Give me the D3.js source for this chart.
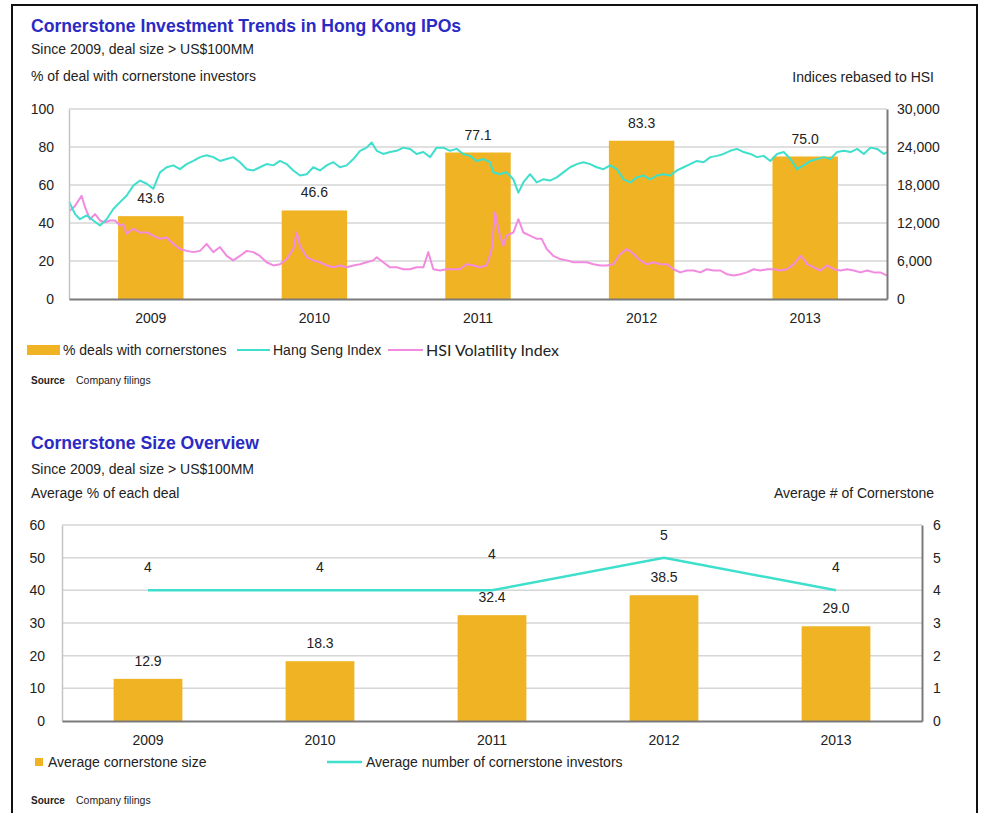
<!DOCTYPE html>
<html>
<head>
<meta charset="utf-8">
<script src="https://cdn.jsdelivr.net/npm/d3@7"></script>
<style>
body { margin: 0; background: #fff; }
svg { display: block; font-family: "Liberation Sans", Arial, sans-serif; }
</style>
</head>
<body>
<div id="chart"></div>
<script>
// ---- data ----
var years = ["2009", "2010", "2011", "2012", "2013"];
var dealsWithCornerstones = [43.6, 46.6, 77.1, 83.3, 75.0];

// [decimal year, index level] - HSI and volatility index rebased to HSI
var hangSeng = [
  [2009.002,15300],[2009.037,13400],[2009.067,12600],[2009.108,13200],[2009.149,12400],[2009.189,11600],
  [2009.230,12600],[2009.271,14200],[2009.312,15300],[2009.352,16300],[2009.393,17900],[2009.434,18700],
  [2009.475,18200],[2009.515,17400],[2009.556,20000],[2009.597,20800],[2009.638,21100],[2009.678,20500],
  [2009.719,21300],[2009.760,21800],[2009.801,22400],[2009.841,22700],[2009.882,22400],[2009.923,21800],
  [2009.964,22100],[2010.004,22400],[2010.045,21600],[2010.086,20500],[2010.127,20300],[2010.167,20800],
  [2010.208,21300],[2010.249,21100],[2010.290,21800],[2010.330,21300],[2010.371,20300],[2010.412,19500],
  [2010.453,19700],[2010.493,20800],[2010.534,20300],[2010.575,21100],[2010.616,21600],[2010.656,20800],
  [2010.697,21100],[2010.738,22100],[2010.779,23400],[2010.819,23900],[2010.850,24700],[2010.881,23400],
  [2010.921,22900],[2010.962,23200],[2011.003,23400],[2011.044,23900],[2011.084,23700],[2011.125,22900],
  [2011.166,23200],[2011.207,22400],[2011.247,23900],[2011.288,23900],[2011.329,23400],[2011.370,23700],
  [2011.410,22900],[2011.451,22600],[2011.492,21800],[2011.533,22100],[2011.573,21600],[2011.594,20000],
  [2011.634,19700],[2011.655,19900],[2011.675,20000],[2011.716,18900],[2011.747,16800],[2011.777,18400],
  [2011.818,19700],[2011.859,18400],[2011.899,18900],[2011.940,18700],[2011.981,19200],[2012.022,20000],
  [2012.063,20800],[2012.104,21300],[2012.145,21600],[2012.185,21300],[2012.226,20800],[2012.267,20500],
  [2012.308,21100],[2012.349,20500],[2012.389,18900],[2012.430,18400],[2012.471,19200],[2012.512,19500],
  [2012.553,18900],[2012.593,19500],[2012.634,19700],[2012.675,19500],[2012.716,20300],[2012.757,20800],
  [2012.797,21300],[2012.838,21800],[2012.879,21600],[2012.920,22400],[2012.961,22600],[2013.001,22900],
  [2013.042,23400],[2013.083,23700],[2013.124,23200],[2013.165,22900],[2013.206,22400],[2013.246,22600],
  [2013.287,21800],[2013.328,22900],[2013.369,23200],[2013.410,22100],[2013.450,20500],[2013.491,21100],
  [2013.532,21800],[2013.573,22100],[2013.614,22400],[2013.654,22100],[2013.695,23200],[2013.736,23400],
  [2013.777,23200],[2013.818,23700],[2013.858,22900],[2013.899,23900],[2013.940,23700],[2013.981,22900],
  [2014.000,23200]
];

var hsiVolatility = [
  [2009.002,13900],[2009.037,14700],[2009.077,16300],[2009.098,14500],[2009.128,12600],[2009.159,13400],
  [2009.189,12400],[2009.220,12100],[2009.251,12400],[2009.281,12400],[2009.312,11600],[2009.332,11800],
  [2009.352,10300],[2009.393,11100],[2009.434,10500],[2009.475,10500],[2009.515,10000],[2009.556,9500],
  [2009.597,9700],[2009.638,8700],[2009.678,7900],[2009.719,7600],[2009.760,7400],[2009.801,7600],
  [2009.841,8700],[2009.882,7400],[2009.923,8200],[2009.964,6800],[2010.004,6100],[2010.045,6800],
  [2010.086,7600],[2010.127,7400],[2010.167,6800],[2010.208,5800],[2010.249,5300],[2010.290,5500],
  [2010.330,6300],[2010.371,7900],[2010.392,10500],[2010.412,8400],[2010.453,6600],[2010.493,6100],
  [2010.534,5800],[2010.575,5300],[2010.616,5000],[2010.656,5300],[2010.697,5000],[2010.738,5300],
  [2010.779,5500],[2010.819,5800],[2010.860,6100],[2010.881,6600],[2010.921,5800],[2010.962,5000],
  [2011.003,5000],[2011.044,4700],[2011.084,4700],[2011.125,5000],[2011.166,5000],[2011.196,7400],
  [2011.227,4700],[2011.268,4500],[2011.308,4700],[2011.349,4700],[2011.390,4700],[2011.431,5500],
  [2011.472,5300],[2011.512,5000],[2011.553,5300],[2011.584,7900],[2011.604,13700],[2011.634,10000],
  [2011.655,8400],[2011.675,10000],[2011.716,10500],[2011.747,12600],[2011.777,10500],[2011.818,10000],
  [2011.859,9500],[2011.889,9500],[2011.920,7900],[2011.961,6800],[2012.002,6300],[2012.043,6100],
  [2012.083,5800],[2012.124,5800],[2012.165,5800],[2012.206,5500],[2012.247,5300],[2012.287,5300],
  [2012.328,5500],[2012.369,7100],[2012.410,7900],[2012.451,7100],[2012.491,6100],[2012.532,5500],
  [2012.573,5800],[2012.614,5500],[2012.655,5500],[2012.695,4700],[2012.736,4200],[2012.777,4500],
  [2012.818,4500],[2012.859,4200],[2012.899,4700],[2012.940,4500],[2012.981,4500],[2013.022,3900],
  [2013.063,3700],[2013.104,3900],[2013.144,4200],[2013.185,4700],[2013.226,4500],[2013.267,4700],
  [2013.308,4700],[2013.348,4500],[2013.389,4700],[2013.430,5500],[2013.471,6800],[2013.491,6300],
  [2013.512,5500],[2013.552,5000],[2013.593,4500],[2013.634,5300],[2013.675,4700],[2013.716,4500],
  [2013.756,4700],[2013.797,4500],[2013.838,4200],[2013.879,4500],[2013.920,4200],[2013.960,4200],
  [2014.000,3700]
];

var avgCornerstoneSize = [12.9, 18.3, 32.4, 38.5, 29.0];
var avgCornerstoneCount = [4, 4, 4, 5, 4];

var leftTicks1 = [0, 20, 40, 60, 80, 100];
var rightTicks1 = [0, 6000, 12000, 18000, 24000, 30000];
var leftTicks2 = [0, 10, 20, 30, 40, 50, 60];
var rightTicks2 = [0, 1, 2, 3, 4, 5, 6];

var legend1 = ["% deals with cornerstones", "Hang Seng Index", "HSI Volatility Index"];
var legend2 = ["Average cornerstone size", "Average number of cornerstone investors"];

// ---- styling ----
var barColor = "#F0B323";
var cyan = "#3EDFCC";
var pink = "#F28BE0";
var titleBlue = "#2B2BC4";
var textColor = "#222";
var gridColor = "#d6d6d6";

var svgWidth = 981, svgHeight = 813;

var svg = d3.select("#chart")
    .append("svg")
    .attr("width", svgWidth)
    .attr("height", svgHeight);

// page frame
svg.append("path")
    .attr("d", "M12,813V5H977V813")
    .attr("fill", "none")
    .attr("stroke", "#111")
    .attr("stroke-width", 2);

function addText(x, y, str, size, opts) {
    opts = opts || {};
    return svg.append("text")
        .attr("x", x)
        .attr("y", y)
        .attr("font-size", size)
        .attr("font-weight", opts.bold ? "bold" : null)
        .attr("fill", opts.fill || textColor)
        .attr("text-anchor", opts.anchor || "start")
        .style("font-family", opts.family || null)
        .text(str);
}

function styleAxis(g, domainColor, domainWidth) {
    g.select(".domain").attr("stroke", domainColor).attr("stroke-width", domainWidth);
    g.selectAll("text").attr("font-size", 14).attr("fill", textColor)
        .style("font-family", "'Liberation Sans', Arial, sans-serif");
}

// =========== chart 1 ===========
var p1 = {left: 69, right: 887, top: 109, bottom: 299};

addText(31, 32, "Cornerstone Investment Trends in Hong Kong IPOs", 17.6, {bold: true, fill: titleBlue});
addText(31, 54, "Since 2009, deal size > US$100MM", 14);
addText(31, 81, "% of deal with cornerstone investors", 14);
addText(934, 82, "Indices rebased to HSI", 14, {anchor: "end"});

var xBand1 = d3.scaleBand().domain(years).range([p1.left, p1.right]).paddingInner(0.6).paddingOuter(0.3);
var xTime1 = d3.scaleLinear().domain([2009, 2014]).range([p1.left, p1.right]);
var yLeft1 = d3.scaleLinear().domain([0, 100]).range([p1.bottom, p1.top]);
var yRight1 = d3.scaleLinear().domain([0, 30000]).range([p1.bottom, p1.top]);

svg.append("g").selectAll("line")
    .data(leftTicks1.filter(d => d > 0))
    .enter().append("line")
    .attr("x1", p1.left).attr("x2", p1.right)
    .attr("y1", d => yLeft1(d)).attr("y2", d => yLeft1(d))
    .attr("stroke", gridColor).attr("stroke-width", 1.5);

svg.append("g").selectAll("rect")
    .data(dealsWithCornerstones)
    .enter().append("rect")
    .attr("x", (d, i) => xBand1(years[i]))
    .attr("width", xBand1.bandwidth())
    .attr("y", d => yLeft1(d))
    .attr("height", d => p1.bottom - yLeft1(d))
    .attr("fill", barColor);

var line1 = d3.line().x(d => xTime1(d[0])).y(d => yRight1(d[1]));

svg.append("path").datum(hsiVolatility)
    .attr("d", line1).attr("fill", "none")
    .attr("stroke", pink).attr("stroke-width", 2).attr("stroke-linejoin", "round");

svg.append("path").datum(hangSeng)
    .attr("d", line1).attr("fill", "none")
    .attr("stroke", cyan).attr("stroke-width", 2).attr("stroke-linejoin", "round");

svg.append("g")
    .attr("transform", `translate(${p1.left},0)`)
    .call(d3.axisLeft(yLeft1).tickValues(leftTicks1).tickSize(0).tickPadding(15))
    .call(g => styleAxis(g, "#c4c4c4", 1.5));

svg.append("g")
    .attr("transform", `translate(${p1.right},0)`)
    .call(d3.axisRight(yRight1).tickValues(rightTicks1).tickFormat(d3.format(",")).tickSize(0).tickPadding(10))
    .call(g => styleAxis(g, "#7a7a7a", 2));

svg.append("g")
    .attr("transform", `translate(0,${p1.bottom})`)
    .call(d3.axisBottom(xBand1).tickSize(0).tickPadding(14))
    .call(g => styleAxis(g, "#7a7a7a", 2));

svg.append("g").selectAll("text")
    .data(dealsWithCornerstones)
    .enter().append("text")
    .attr("x", (d, i) => xBand1(years[i]) + xBand1.bandwidth() / 2)
    .attr("y", d => yLeft1(d) - 13)
    .attr("text-anchor", "middle")
    .attr("font-size", 14)
    .attr("fill", textColor)
    .text(d => d3.format(".1f")(d));

// legend 1
svg.append("rect").attr("x", 27).attr("y", 345).attr("width", 33).attr("height", 10).attr("fill", barColor);
addText(63, 355, legend1[0], 14);
svg.append("line").attr("x1", 237).attr("x2", 270).attr("y1", 350).attr("y2", 350).attr("stroke", cyan).attr("stroke-width", 2);
addText(273, 355, legend1[1], 14);
svg.append("line").attr("x1", 388).attr("x2", 423).attr("y1", 350).attr("y2", 350).attr("stroke", pink).attr("stroke-width", 2);
addText(426, 356, legend1[2], 16, {family: "Lato, 'Open Sans', sans-serif"});

addText(31, 384, "Source", 10, {bold: true});
addText(76, 384, "Company filings", 10.5);

// =========== chart 2 ===========
var p2 = {left: 62, right: 922, top: 525, bottom: 721};

addText(31, 449, "Cornerstone Size Overview", 17.6, {bold: true, fill: titleBlue});
addText(31, 474, "Since 2009, deal size > US$100MM", 14);
addText(31, 498, "Average % of each deal", 14);
addText(934, 498, "Average # of Cornerstone", 14, {anchor: "end"});

var xBand2 = d3.scaleBand().domain(years).range([p2.left, p2.right]).paddingInner(0.6).paddingOuter(0.3);
var yLeft2 = d3.scaleLinear().domain([0, 60]).range([p2.bottom, p2.top]);
var yRight2 = d3.scaleLinear().domain([0, 6]).range([p2.bottom, p2.top]);
var cx2 = y => xBand2(y) + xBand2.bandwidth() / 2;

svg.append("g").selectAll("line")
    .data(leftTicks2.filter(d => d > 0))
    .enter().append("line")
    .attr("x1", p2.left).attr("x2", p2.right)
    .attr("y1", d => yLeft2(d)).attr("y2", d => yLeft2(d))
    .attr("stroke", gridColor).attr("stroke-width", 1.5);

svg.append("g").selectAll("rect")
    .data(avgCornerstoneSize)
    .enter().append("rect")
    .attr("x", (d, i) => xBand2(years[i]))
    .attr("width", xBand2.bandwidth())
    .attr("y", d => yLeft2(d))
    .attr("height", d => p2.bottom - yLeft2(d))
    .attr("fill", barColor);

svg.append("path").datum(avgCornerstoneCount)
    .attr("d", d3.line().x((d, i) => cx2(years[i])).y(d => yRight2(d)))
    .attr("fill", "none")
    .attr("stroke", cyan).attr("stroke-width", 2.5);

svg.append("g")
    .attr("transform", `translate(${p2.left},0)`)
    .call(d3.axisLeft(yLeft2).tickValues(leftTicks2).tickSize(0).tickPadding(17))
    .call(g => styleAxis(g, "#c4c4c4", 1.5));

svg.append("g")
    .attr("transform", `translate(${p2.right},0)`)
    .call(d3.axisRight(yRight2).tickValues(rightTicks2).tickFormat(d3.format("d")).tickSize(0).tickPadding(11))
    .call(g => styleAxis(g, "#7a7a7a", 2));

svg.append("g")
    .attr("transform", `translate(0,${p2.bottom})`)
    .call(d3.axisBottom(xBand2).tickSize(0).tickPadding(14))
    .call(g => styleAxis(g, "#7a7a7a", 2));

svg.append("g").selectAll("text")
    .data(avgCornerstoneSize)
    .enter().append("text")
    .attr("x", (d, i) => cx2(years[i]))
    .attr("y", d => yLeft2(d) - 13)
    .attr("text-anchor", "middle")
    .attr("font-size", 14)
    .attr("fill", textColor)
    .text(d => d3.format(".1f")(d));

// count labels, nudged up where they would sit on top of a bar label
svg.append("g").selectAll("text")
    .data(avgCornerstoneCount)
    .enter().append("text")
    .attr("x", (d, i) => cx2(years[i]))
    .attr("y", function(d, i) {
        var y = yRight2(d) - 18;
        var barLabelY = yLeft2(avgCornerstoneSize[i]) - 13;
        if (barLabelY - y < 35) y -= 13;
        return y;
    })
    .attr("text-anchor", "middle")
    .attr("font-size", 14)
    .attr("fill", textColor)
    .text(d => d);

// legend 2
svg.append("rect").attr("x", 35).attr("y", 758).attr("width", 8).attr("height", 8).attr("fill", barColor);
addText(48, 767, legend2[0], 14);
svg.append("line").attr("x1", 327).attr("x2", 362).attr("y1", 762).attr("y2", 762).attr("stroke", cyan).attr("stroke-width", 2.5);
addText(366, 767, legend2[1], 14);

addText(31, 804, "Source", 10, {bold: true});
addText(76, 804, "Company filings", 10.5);
</script>
</body>
</html>
